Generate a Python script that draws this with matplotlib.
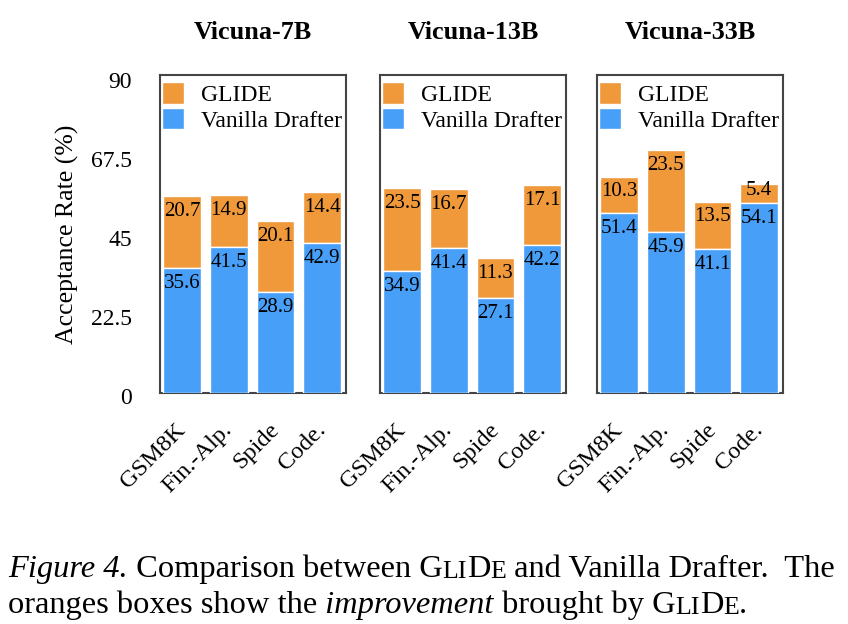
import matplotlib
matplotlib.use("Agg")
import matplotlib.pyplot as plt
from matplotlib.transforms import ScaledTranslation
import numpy as np

plt.rcParams['font.family'] = ['Liberation Serif', 'DejaVu Serif']

models = ['Vicuna-7B', 'Vicuna-13B', 'Vicuna-33B']
tasks = ['GSM8K', 'Fin.-Alp.', 'Spide', 'Code.']
vanilla = [[35.6, 41.5, 28.9, 42.9],
           [34.9, 41.4, 27.1, 42.2],
           [51.4, 45.9, 41.1, 54.1]]
glide = [[20.7, 14.9, 20.1, 14.4],
         [23.5, 16.7, 11.3, 17.1],
         [10.3, 23.5, 13.5, 5.4]]
yticks = [0, 22.5, 45, 67.5, 90]
ytick_labels = ['0', '22.5', '45', '67.5', '90']

c_orange = '#F0993B'
c_blue = '#489FF8'

fig = plt.figure(figsize=(8.48, 6.24), dpi=100)
lefts = [160, 380, 597]
for i in range(3):
    ax = fig.add_axes([lefts[i] / 848, 1 - 393 / 624, 186 / 848, (393 - 75) / 624])
    x = np.arange(len(tasks))
    b = np.array(vanilla[i])
    g = np.array(glide[i])
    ax.bar(x, g, 0.81, bottom=b, color=c_orange, edgecolor='white', linewidth=1, label='GLIDE', zorder=3)
    ax.bar(x, b, 0.81, color=c_blue, edgecolor='white', linewidth=1, label='Vanilla Drafter', zorder=3)
    for j in range(len(tasks)):
        ax.text(x[j], b[j] - 4.4, '%.1f' % b[j], ha='center', va='center', fontsize=15, zorder=4)
        top = b[j] + g[j]
        yl = max(top - 4.4, b[j] + g[j] / 2 + 1.0)
        ax.text(x[j], yl, '%.1f' % g[j], ha='center', va='center', fontsize=15, zorder=4)
    ax.set_xlim(-0.47, 3.51)
    ax.set_ylim(0, 90.7)
    ax.set_xticks(x)
    ax.set_xticklabels(tasks, rotation=45, ha='right', rotation_mode='anchor', fontsize=17.5)
    ax.tick_params(axis='x', length=0, pad=6)
    shift = ScaledTranslation(-7 / 100, -18 / 100, fig.dpi_scale_trans)
    for lab in ax.get_xticklabels():
        lab.set_transform(lab.get_transform() + shift)
    if i == 0:
        ax.set_yticks(yticks)
        ax.set_yticklabels(ytick_labels, fontsize=17)
        ax.tick_params(axis='y', length=0, pad=20)
        yshift = ScaledTranslation(0, -3 / 100, fig.dpi_scale_trans)
        for lab in ax.get_yticklabels():
            lab.set_transform(lab.get_transform() + yshift)
        ax.set_ylabel('Acceptance Rate (%)', fontsize=18.5, labelpad=9)
    else:
        ax.set_yticks([])
    for s in ax.spines.values():
        s.set_color('#444444')
        s.set_linewidth(1.5)
    ax.set_title(models[i], fontsize=18.8, fontweight='bold', pad=26)
    ax.legend(loc='upper left', bbox_to_anchor=(0, 0.984), frameon=False, fontsize=17,
              handlelength=0.9, handleheight=1.0, handletextpad=0.75,
              borderaxespad=0, borderpad=0.1, labelspacing=0.08)

# caption, GLIDE written in small caps
cap = fig.add_axes([0, 0, 1, 1])
cap.axis('off')
fs = 23.4
sc = fs * 0.8
lift = (fs - sc) * 0.217
line1 = [('Figure 4.', 'italic', fs), (' Comparison between G', 'normal', fs), ('LI', 'normal', sc),
         ('D', 'normal', fs), ('E', 'normal', sc), (' and Vanilla Drafter.  The', 'normal', fs)]
line2 = [('oranges boxes show the', 'normal', fs), (' improvement', 'italic', fs), (' brought by G', 'normal', fs),
         ('LI', 'normal', sc), ('D', 'normal', fs), ('E', 'normal', sc), ('.', 'normal', fs)]
desc = fs * 0.217 * 100 / 72
for line, base in [(line1, 577), (line2, 613)]:
    ybot = 1 - (base + desc) / 624
    first = cap.text(8 / 848, ybot, line[0][0], style=line[0][1], fontsize=line[0][2], va='bottom', ha='left')
    prev = first
    for s, st, size in line[1:]:
        off = lift if size < fs else 0
        prev = cap.annotate(s, xy=(1, 0), xycoords=(prev, first), xytext=(0, off), textcoords='offset points',
                            style=st, fontsize=size, va='bottom', ha='left')

fig.savefig('out.png', dpi=100)
